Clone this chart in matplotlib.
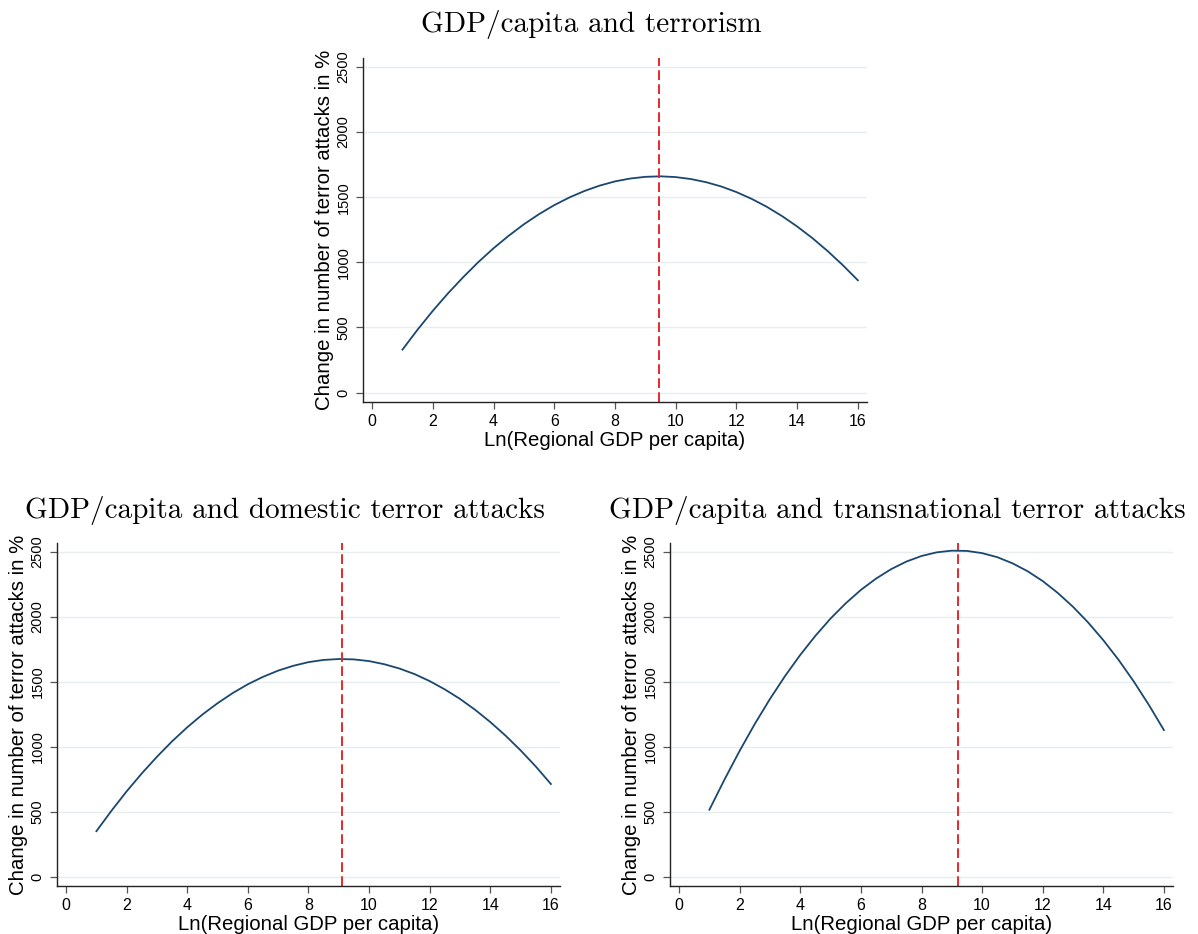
import matplotlib
matplotlib.use("Agg")
import matplotlib.pyplot as plt

# values (x = ln regional GDP per capita)
gdp = [1, 1.5, 2, 2.5, 3, 3.5, 4, 4.5, 5, 5.5, 6, 6.5, 7, 7.5, 8, 8.5,
       9, 9.5, 10, 10.5, 11, 11.5, 12, 12.5, 13, 13.5, 14, 14.5, 15, 15.5, 16]
all_attacks = [330, 484, 628, 762, 886, 1002, 1108, 1204, 1292, 1370,
               1439, 1498, 1548, 1589, 1621, 1643, 1656, 1660, 1654, 1639,
               1615, 1582, 1539, 1487, 1426, 1355, 1275, 1186, 1087, 979, 862]
domestic = [350, 508, 657, 795, 923, 1042, 1150, 1248, 1335, 1413,
            1481, 1538, 1586, 1623, 1651, 1668, 1675, 1672, 1659, 1635,
            1602, 1559, 1505, 1441, 1368, 1284, 1190, 1086, 972, 848, 713]
transnational = [515, 748, 969, 1176, 1368, 1545, 1707, 1854, 1987, 2104,
                 2207, 2294, 2367, 2425, 2468, 2496, 2509, 2507, 2490, 2459,
                 2412, 2351, 2275, 2183, 2077, 1956, 1820, 1670, 1504, 1323, 1128]
turning_points = [9.45, 9.1, 9.2]

titles = ["GDP/capita and terrorism",
          "GDP/capita and domestic terror attacks",
          "GDP/capita and transnational terror attacks"]
xticks = [0, 2, 4, 6, 8, 10, 12, 14, 16]
yticks = [0, 500, 1000, 1500, 2000, 2500]

W, H = 1198, 934
fig = plt.figure(figsize=(W / 100, H / 100), dpi=100)

# axes boxes in pixels: left, top, right, bottom
boxes = [(363, 58, 867, 402), (57, 543, 560, 886), (670, 543, 1173, 886)]
title_pos = [(591, 32), (285, 518), (897, 518)]
series = [all_attacks, domestic, transnational]

sans = ["Liberation Sans", "DejaVu Sans"]

for box, tpos, ys, vx, title in zip(boxes, title_pos, series, turning_points, titles):
    l, t, r, b = box
    ax = fig.add_axes([l / W, 1 - b / H, (r - l) / W, (b - t) / H])
    ax.plot(gdp, ys, color="#1a476f", lw=1.3)
    ax.axvline(vx, color="#e8282b", lw=1.4, ls=(0, (5, 2.2)))
    ax.set_xlim(-0.3, 16.3)
    ax.set_ylim(-72, 2568)
    ax.set_xticks(xticks)
    ax.set_yticks(yticks)
    ax.grid(axis="y", color="#e6eef0", lw=1.0)
    ax.set_axisbelow(True)
    for s in ["top", "right"]:
        ax.spines[s].set_visible(False)
    for s in ["left", "bottom"]:
        ax.spines[s].set_color("#222222")
        ax.spines[s].set_linewidth(1.0)
    ax.tick_params(axis="both", direction="out", length=5, width=0.9,
                   color="#555555", pad=4)
    for lab in ax.get_xticklabels():
        lab.set_fontfamily(sans)
        lab.set_fontsize(11.5)
    for lab in ax.get_yticklabels():
        lab.set_fontfamily(sans)
        lab.set_fontsize(10.5)
        lab.set_rotation(90)
        lab.set_va("center")
    ax.set_xlabel("Ln(Regional GDP per capita)", fontfamily=sans,
                  fontsize=14.7, labelpad=1)
    ax.set_ylabel("Change in number of terror attacks in %", fontfamily=sans,
                  fontsize=14.7, labelpad=2)
    fig.text(tpos[0] / W, 1 - tpos[1] / H, title, family="cmr10",
             fontsize=21, ha="center", va="baseline")

fig.savefig("out.png", dpi=100, facecolor="white")
